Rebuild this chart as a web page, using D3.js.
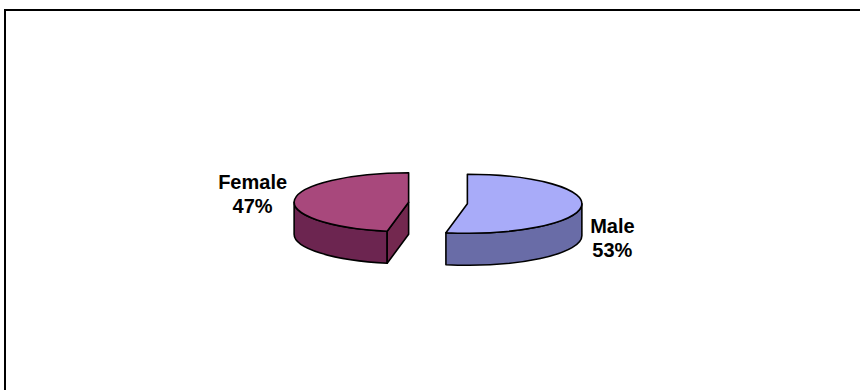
<!DOCTYPE html>
<html>
<head>
<meta charset="utf-8">
<script src="https://cdn.jsdelivr.net/npm/d3@7/dist/d3.min.js"></script>
<style>
  html, body { margin: 0; padding: 0; background: #fff; }
  svg { display: block; }
  text { font-family: Arial, "Liberation Sans", sans-serif; font-weight: bold; font-size: 20px; fill: #000; }
</style>
</head>
<body>
<svg id="chart" width="860" height="390"></svg>
<script>
// Gender split
const categories = ["Male", "Female"];
const values = [53, 47];
const valueLabels = ["53%", "47%"];

const topColors  = ["#a8abf9", "#a8487c"];
const sideColors = ["#696ca7", "#6c2550"];
const cutColors  = ["#5f6299", "#73284f"];

const svg = d3.select("#chart");
const W = 860, H = 390;

// Frame around the plot area
svg.append("rect")
  .attr("x", 5).attr("y", 10)
  .attr("width", W + 20).attr("height", H + 20)
  .attr("fill", "none").attr("stroke", "#000").attr("stroke-width", 2);

// Tilted 3-D pie geometry
const cx = 438, cy = 203;
const rx = 114.5, ry = 29.5, depth = 32;
const explode = 29.5;

const pie = d3.pie().sort(null).value(d => d)
  .startAngle(0).endAngle(2 * Math.PI);
const arcs = pie(values);

// angle 0 = back (top of screen), increasing clockwise
const proj = (ox, oy, a, r = 1) => [ox + rx * r * Math.sin(a), oy - ry * r * Math.cos(a)];

const g = svg.append("g");
const stroke = { stroke: "#000", width: 1.6 };

arcs.forEach((d, i) => {
  const mid = (d.startAngle + d.endAngle) / 2;
  const ox = cx + explode * Math.sin(mid);
  const oy = cy - explode * Math.cos(mid) * (ry / rx);
  const slice = g.append("g").attr("class", "slice-" + categories[i]);

  // Outer wall: only the front half (angles between 90° and 270°) is visible
  const s = Math.max(d.startAngle, Math.PI / 2);
  const e = Math.min(d.endAngle, 3 * Math.PI / 2);
  if (e > s) {
    const p1 = proj(ox, oy, s), p2 = proj(ox, oy, e);
    const large = (e - s) > Math.PI ? 1 : 0;
    const dpath = `M${p1[0]},${p1[1]} A${rx},${ry} 0 ${large} 1 ${p2[0]},${p2[1]}` +
      ` L${p2[0]},${p2[1] + depth} A${rx},${ry} 0 ${large} 0 ${p1[0]},${p1[1] + depth} Z`;
    slice.append("path").attr("d", dpath)
      .attr("fill", sideColors[i]).attr("stroke", stroke.stroke)
      .attr("stroke-width", stroke.width).attr("stroke-linejoin", "round");
  }

  // Radial cut faces that turn towards the viewer
  [[d.startAngle, -1], [d.endAngle, 1]].forEach(([a, dir]) => {
    const facing = dir * Math.sin(a);
    if (facing > 1e-6) {
      const r = proj(ox, oy, a);
      const pts = [[ox, oy], r, [r[0], r[1] + depth], [ox, oy + depth]];
      slice.append("path").attr("d", "M" + pts.map(p => p.join(",")).join("L") + "Z")
        .attr("fill", cutColors[i]).attr("stroke", stroke.stroke)
        .attr("stroke-width", stroke.width).attr("stroke-linejoin", "round");
    }
  });

  // Top face
  const a0 = proj(ox, oy, d.startAngle), a1 = proj(ox, oy, d.endAngle);
  const largeTop = (d.endAngle - d.startAngle) > Math.PI ? 1 : 0;
  slice.append("path")
    .attr("d", `M${ox},${oy} L${a0[0]},${a0[1]} A${rx},${ry} 0 ${largeTop} 1 ${a1[0]},${a1[1]} Z`)
    .attr("fill", topColors[i]).attr("stroke", stroke.stroke)
    .attr("stroke-width", stroke.width).attr("stroke-linejoin", "round");

  // Category / percentage label beside the slice
  const rim = proj(ox, oy, mid);
  const right = Math.sin(mid) >= 0;
  const lx = rim[0] + (right ? 31 : -42);
  const ly = rim[1] + (right ? 27 : -10.5);
  const t = svg.append("text").attr("text-anchor", "middle")
    .attr("x", lx).attr("y", ly);
  t.append("tspan").attr("x", lx).text(categories[i]);
  t.append("tspan").attr("x", lx).attr("dy", 24).text(valueLabels[i]);
});
</script>
</body>
</html>
